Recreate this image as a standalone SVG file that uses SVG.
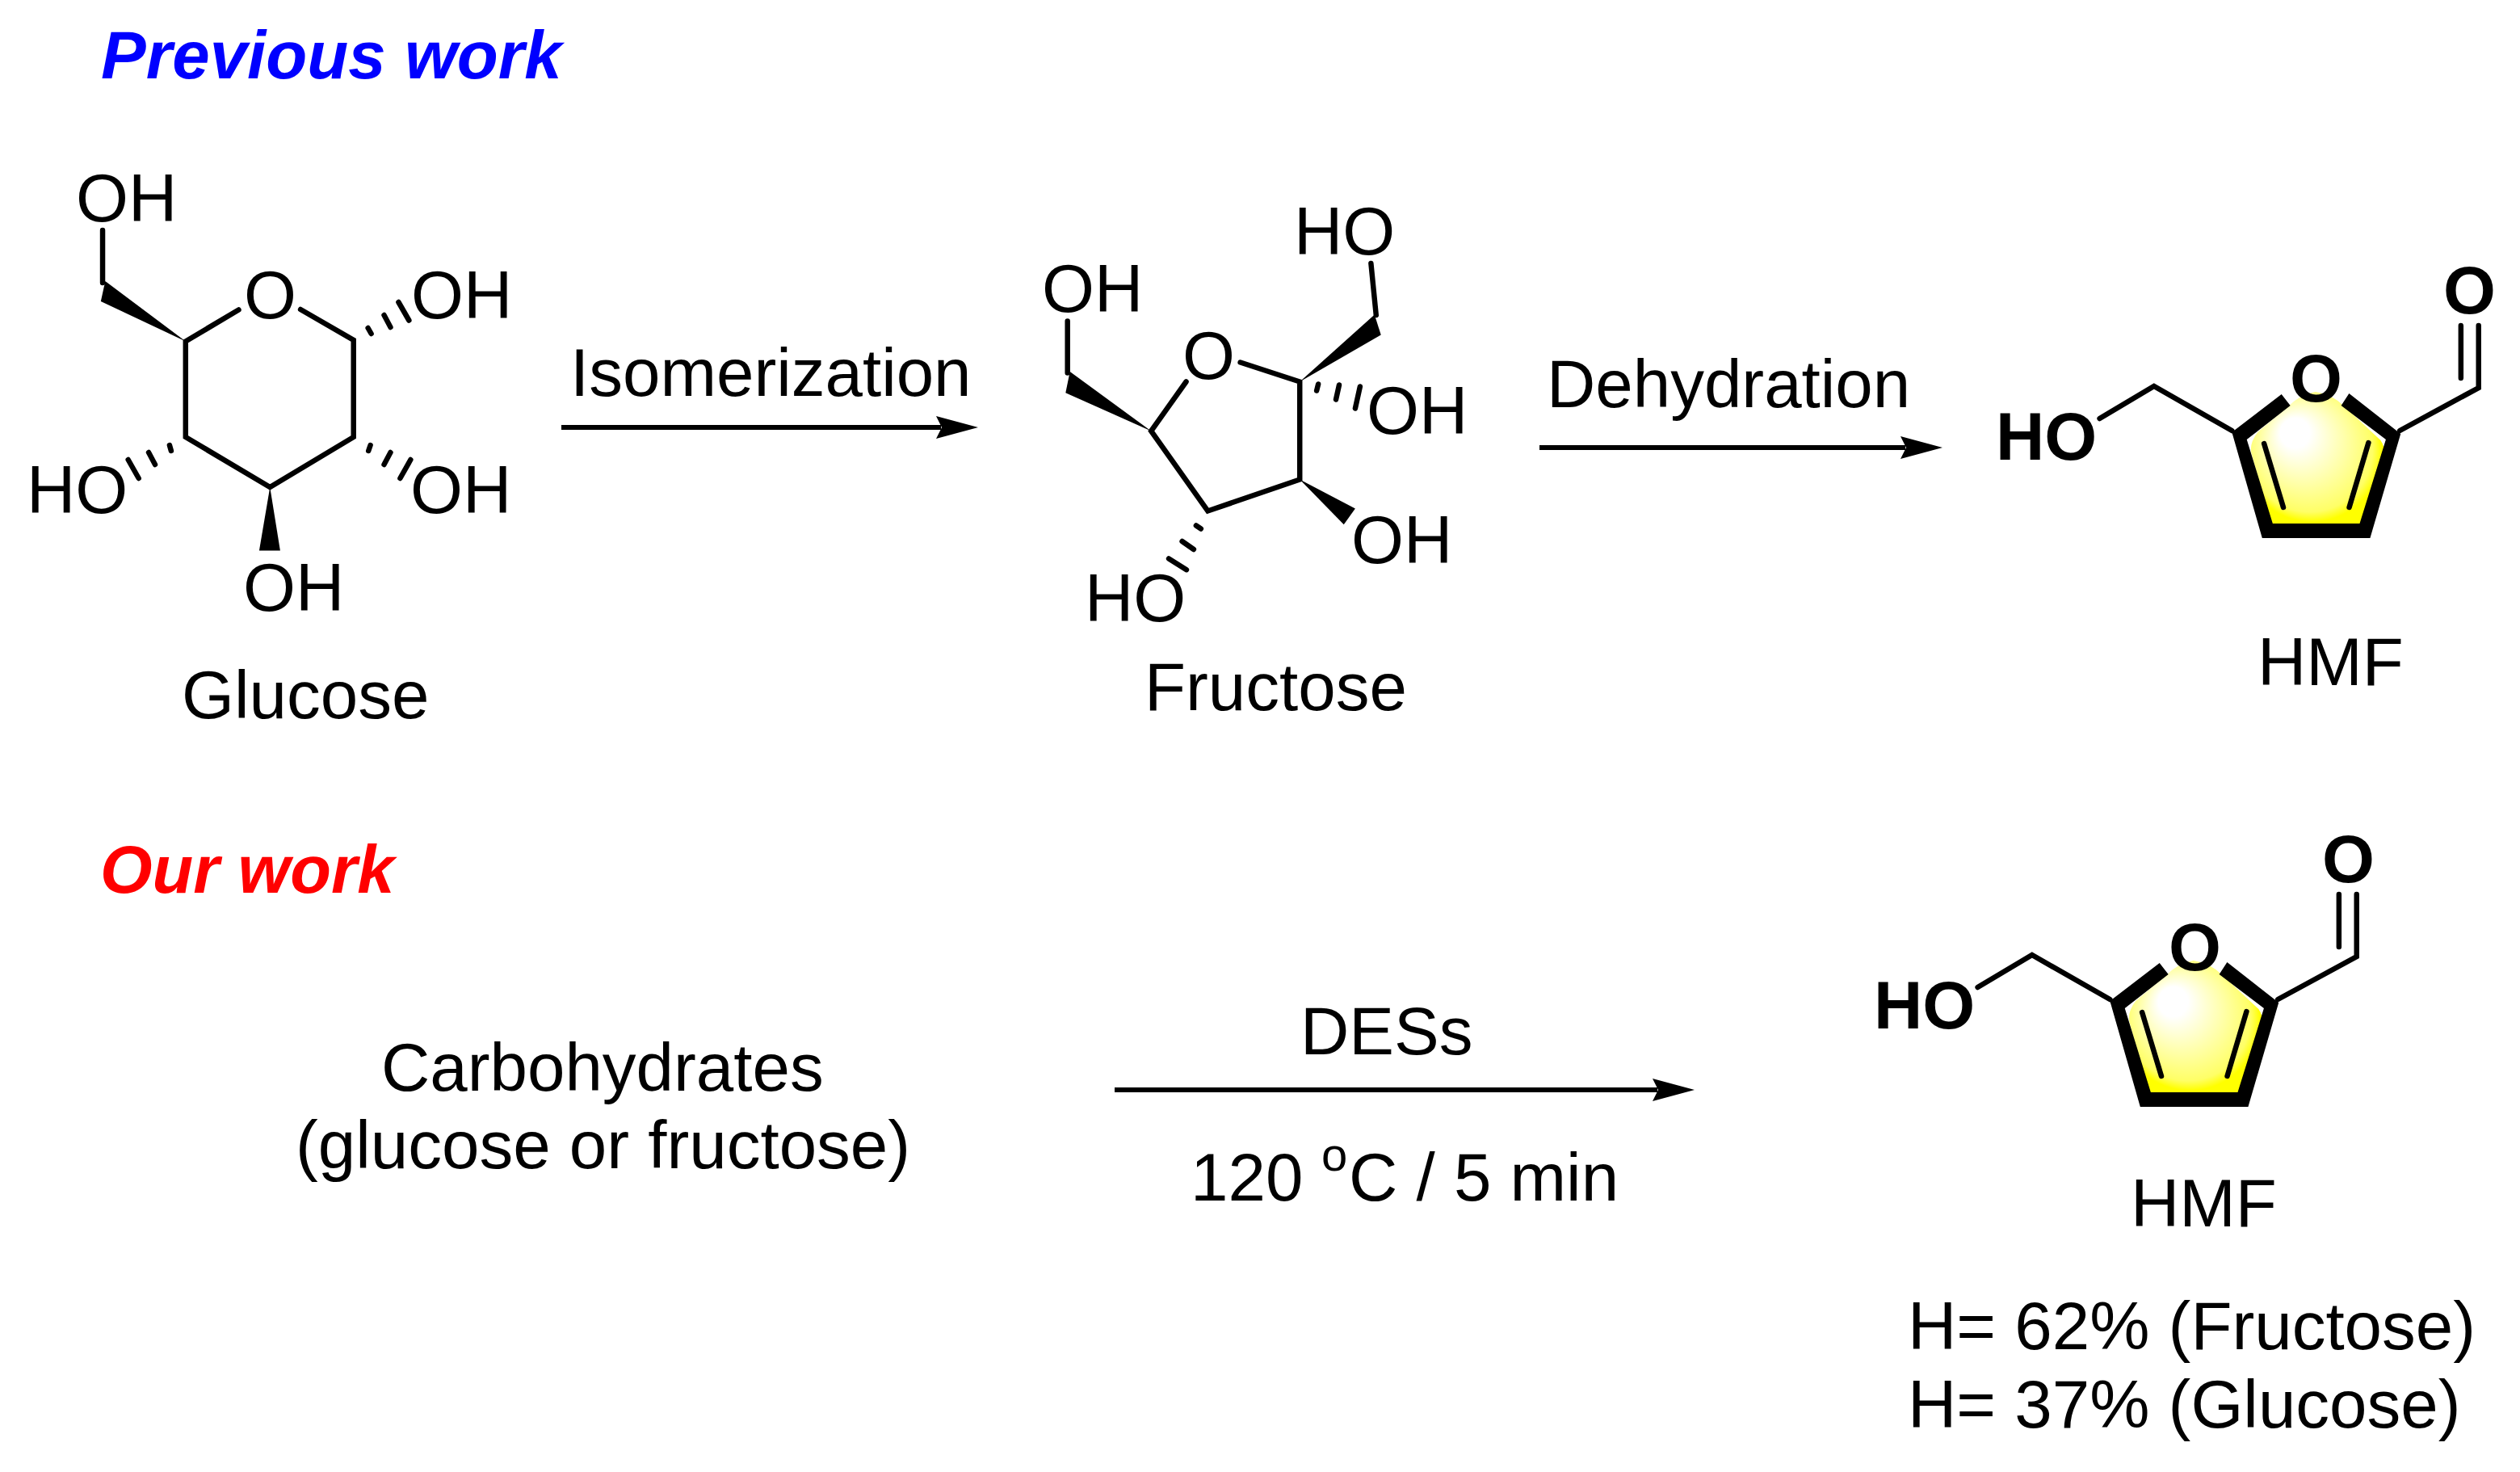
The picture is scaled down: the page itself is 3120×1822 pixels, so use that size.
<svg xmlns="http://www.w3.org/2000/svg" width="3120" height="1822" viewBox="0 0 3120 1822">
<style>
text{font-family:"Liberation Sans",Arial,sans-serif;font-size:83.5px;fill:#000}
.b{font-weight:bold}
.h{font-weight:bold;font-style:italic}
.bond{stroke:#000;stroke-width:6.5;stroke-linecap:round;stroke-linejoin:miter;fill:none}
.wedge{fill:#000;stroke:none}
.arrow{stroke:#000;stroke-width:6;fill:none}
</style>
<defs>
<marker id="ah" markerUnits="userSpaceOnUse" markerWidth="54" markerHeight="32" refX="6" refY="16" orient="auto"><path d="M0,2 L52,16 L0,30 L7,16 Z" fill="#000"/></marker>
<radialGradient id="glow" gradientUnits="userSpaceOnUse" cx="2866" cy="560" r="92" fx="2838" fy="530"><stop offset="0" stop-color="#fff"/><stop offset="0.2" stop-color="#fff"/><stop offset="0.85" stop-color="#ffff66"/><stop offset="0.95" stop-color="#ff0"/><stop offset="1" stop-color="#ff0"/></radialGradient>
<path id="hmfShape" d="M2869,485 Q2890,488 2905,503 L2950,545 Q2957,555 2954,570 L2928,645 Q2924,655 2915,655 L2825,655 Q2815,655 2812,645 L2789,560 Q2787,548 2797,535 L2835,503 Q2850,488 2869,485 Z"/>
<g id="hmfBody" transform="matrix(0.9948 0 0 1 12.7 0)">
<use href="#hmfShape" fill="url(#glow)"/>
<path class="wedge" d="M2765,535 L2826.7,488 L2837.7,502 L2783.5,544 L2815.8,648 L2924,648 L2956.6,544 L2901,502 L2910.8,487 L2975,537 L2937,666 L2802.7,666 Z"/>
<path class="bond" d="M2600.4,518 L2668,478 L2765,533"/>
<path class="bond" d="M2974,533 L3072,480 L3072,403 M3050,403 L3050,468 M2805,549 L2829,628 M2935,548 L2911,628"/>
</g>
</defs>
<rect width="3120" height="1822" fill="#fff"/>

<g id="connectors">
<line class="arrow" x1="695" y1="529" x2="1165" y2="529" marker-end="url(#ah)"/>
<line class="arrow" x1="1906" y1="554" x2="2359" y2="554" marker-end="url(#ah)"/>
<line class="arrow" x1="1380" y1="1349" x2="2052" y2="1349" marker-end="url(#ah)"/>
</g>

<g id="heading-previous"><text class="h" x="125" y="97" style="fill:#0000ff">Previous work</text></g>
<g id="heading-our"><text class="h" x="124" y="1105" style="font-size:83px;fill:#ff0000">Our work</text></g>

<g id="glucose">
<g transform="matrix(0.9948 0 0 1 0 -1)">
<path class="bond" d="M297,384.5 L231,423.5 L231,542 L336,604 L440,542 L440,422 L374,384"/>
<path class="bond" d="M127.7,286 L127.7,351"/>
<path class="wedge" d="M231,423.5 L131,349 L125.5,374 Z"/>
<path class="wedge" d="M336,604 L322.6,682.6 L348.7,682.6 Z"/>
<path class="bond" d="M458,407 L462,414 M478,391 L486,406 M496,375 L509,397.5 M211,552 L213,559 M185,561 L193,576 M159.5,570 L172.6,593 M461,552 L458.6,559 M486,561 L478,576 M511,570 L498,593"/>
</g>
<text x="94" y="274">OH</text>
<text x="302" y="394">O</text>
<text x="509" y="394">OH</text>
<text x="33" y="635">HO</text>
<text x="508" y="635">OH</text>
<text x="301" y="756">OH</text>
<text x="225" y="889">Glucose</text>
</g>

<g id="fructose">
<g transform="matrix(0.995 0 0 1 6.3 -1.5)">
<path class="bond" d="M1469.6,474 L1426,535 L1496.5,634 L1611,595 L1611,474 L1537,450"/>
<path class="bond" d="M1322,399 L1322,463 M1699.6,327.6 L1706,391.5"/>
<path class="wedge" d="M1426,535 L1325,461.5 L1319.6,487.7 Z"/>
<path class="wedge" d="M1611,474 L1704,391 L1712,416 Z"/>
<path class="wedge" d="M1611,595 L1680,631 L1665.8,650.7 Z"/>
<path class="bond" d="M1634,477 L1632,485 M1660,478 L1656,496 M1686,480 L1680,507 M1482,652 L1488,656 M1464.6,671.5 L1479,681.5 M1448,693 L1470,706.7"/>
</g>
<text x="1290" y="386">OH</text>
<text x="1602" y="315">HO</text>
<text x="1464" y="469">O</text>
<text x="1692" y="537">OH</text>
<text x="1673" y="697">OH</text>
<text x="1343" y="769">HO</text>
<text x="1417" y="879">Fructose</text>
</g>

<g id="hmf-top">
<use href="#hmfBody"/>
<text class="b" x="2471" y="569">HO</text>
<text class="b" x="2835" y="497">O</text>
<text class="b" x="3025" y="388">O</text>
<text x="2795" y="848">HMF</text>
</g>

<g id="hmf-bottom">
<use href="#hmfBody" transform="translate(-151 704)"/>
<text class="b" x="2320" y="1273">HO</text>
<text class="b" x="2685" y="1201">O</text>
<text class="b" x="2875" y="1092">O</text>
<text x="2638" y="1518">HMF</text>
<text x="2362" y="1670">H= 62% (Fructose)</text>
<text x="2362" y="1767">H= 37% (Glucose)</text>
</g>

<g id="carbohydrates">
<text x="472" y="1350">Carbohydrates</text>
<text x="366" y="1446">(glucose or fructose)</text>
</g>

<g id="labels">
<text x="706" y="490">Isomerization</text>
<text x="1915" y="504">Dehydration</text>
<text x="1610" y="1305">DESs</text>
<text x="1474" y="1486">120 <tspan x="1636" y="1449" style="font-size:58px">o</tspan><tspan x="1670" y="1486">C / 5 min</tspan></text>
</g>
</svg>
